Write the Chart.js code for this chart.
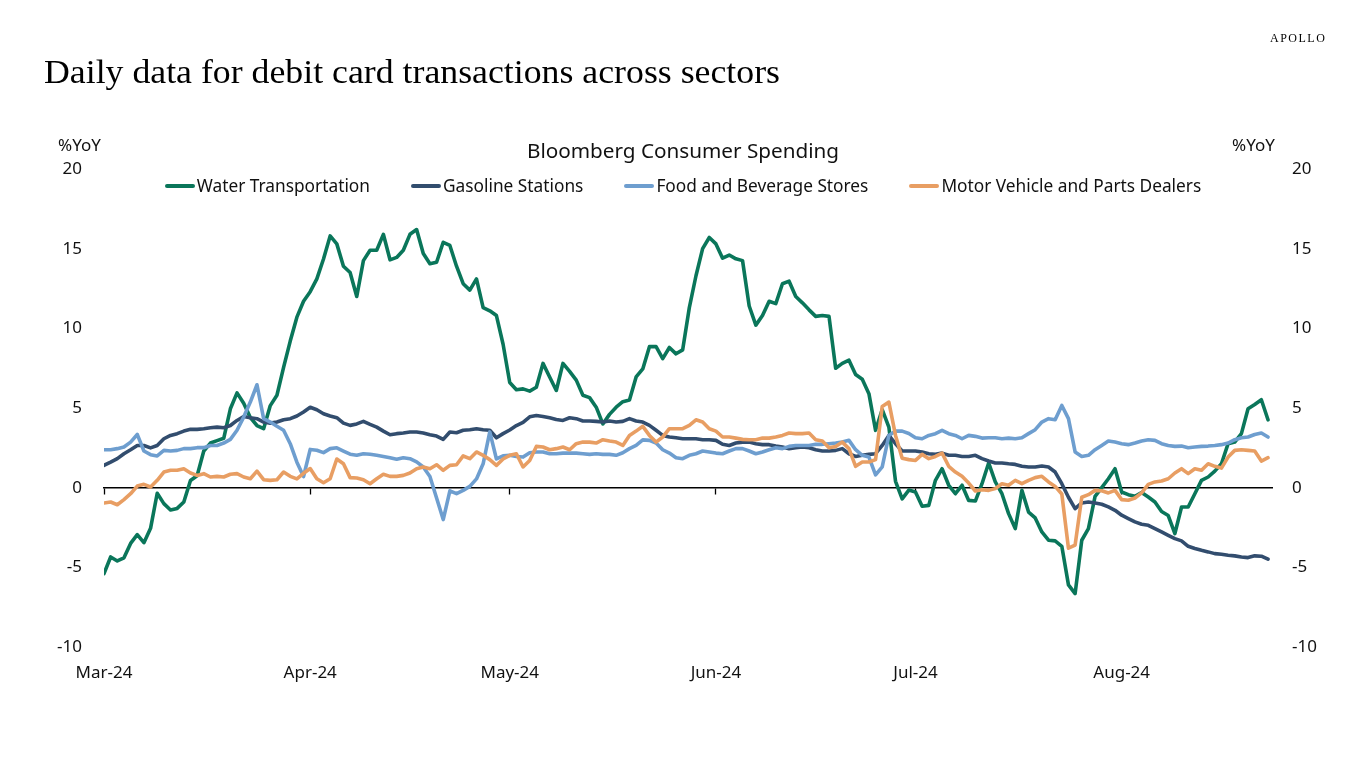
<!DOCTYPE html>
<html>
<head>
<meta charset="utf-8">
<script src="https://cdn.jsdelivr.net/npm/chart.js@4.4.1/dist/chart.umd.min.js"></script>
<style>
html,body{margin:0;padding:0;background:#fff;width:1366px;height:768px;overflow:hidden;}
#wrap{position:relative;width:1366px;height:768px;}
#c{position:absolute;left:0;top:0;}
.t{position:absolute;white-space:nowrap;color:#111;}
#title{left:44px;top:55px;font-family:"Liberation Serif",serif;font-size:34px;line-height:34px;transform-origin:0 0;color:#000;}
#apollo{left:1270px;top:32px;font-family:"Liberation Serif",serif;font-size:12px;line-height:12px;letter-spacing:1.5px;color:#000;}
#sub{left:433px;width:500px;text-align:center;top:138px;font-family:"Noto Sans",sans-serif;font-size:20.7px;line-height:24px;color:#111;}
.yoy{top:135px;font-family:"Noto Sans",sans-serif;font-size:17px;line-height:20px;color:#111;}
#legend{position:absolute;left:0;width:1366px;top:176px;display:flex;justify-content:center;font-family:"Noto Sans",sans-serif;font-size:17.3px;line-height:20px;color:#111;}
.li{display:flex;align-items:center;margin:0 20.5px;}
.sw{display:inline-block;width:30px;height:4px;border-radius:2px;margin-right:2px;}
</style>
</head>
<body>
<div id="wrap">
<canvas id="c" width="1366" height="768"></canvas>
<div class="t" id="apollo">APOLLO</div>
<div class="t" id="title">Daily data for debit card transactions across sectors</div>
<div class="t" id="sub">Bloomberg Consumer Spending</div>
<div class="t yoy" style="left:58px;">%YoY</div>
<div class="t yoy" style="left:1232px;">%YoY</div>
<div id="legend"></div>
</div>
<script>
// Daily observations starting 1 Mar 2024 (day 0) through 23 Aug 2024 (day 175)
const startDate = '2024-03-01';
const seriesNames = ['Water Transportation', 'Gasoline Stations', 'Food and Beverage Stores', 'Motor Vehicle and Parts Dealers'];
const seriesColors = ['#0A765A', '#324D6E', '#6E9ECF', '#E89E63'];

const waterTransportation = [
  -5.4,-4.35,-4.6,-4.4,-3.5,-2.95,-3.45,-2.55,-0.35,-1.0,-1.4,-1.3,-0.9,0.45,0.75,2.3,2.8,2.95,3.1,4.95,5.95,5.3,4.4,3.9,3.7,5.15,5.8,7.55,9.2,10.7,11.7,
  12.3,13.1,14.35,15.8,15.3,13.9,13.5,12.0,14.25,14.9,14.9,15.9,14.3,14.45,14.9,15.9,16.2,14.7,14.05,14.15,15.4,15.2,13.9,12.8,12.4,13.1,11.3,11.1,10.8,9.0,
  6.6,6.15,6.2,6.06,6.3,7.8,6.95,6.1,7.8,7.3,6.75,5.8,5.65,5.05,4.0,4.6,5.05,5.4,5.5,6.95,7.45,8.85,8.85,8.1,8.8,8.4,8.65,11.3,13.3,15.0,
  15.7,15.3,14.4,14.6,14.36,14.25,11.4,10.2,10.8,11.7,11.55,12.8,12.96,12.0,11.6,11.16,10.75,10.8,10.75,7.5,7.8,8.0,7.1,6.8,5.9,3.6,4.9,3.8,0.4,-0.7,
  -0.15,-0.27,-1.17,-1.11,0.46,1.19,0.15,-0.38,0.15,-0.8,-0.84,0.25,1.55,0.36,-0.38,-1.63,-2.57,-0.17,-1.53,-1.9,-2.78,-3.3,-3.34,-3.68,-6.1,-6.65,-3.3,-2.57,-0.55,0.0,
  0.56,1.19,-0.27,-0.44,-0.54,-0.3,-0.59,-0.9,-1.5,-1.75,-2.88,-1.21,-1.21,-0.38,0.46,0.67,1.04,1.5,2.76,2.86,3.39,4.95,5.22,5.52,4.26
];
const gasolineStations = [
  1.4,1.6,1.82,2.13,2.38,2.65,2.65,2.5,2.65,3.07,3.28,3.39,3.55,3.66,3.66,3.7,3.76,3.8,3.76,3.9,4.22,4.47,4.39,4.33,4.12,4.05,4.12,4.26,4.33,4.5,4.75,
  5.05,4.89,4.64,4.5,4.39,4.05,3.91,4.0,4.16,3.97,3.8,3.55,3.32,3.39,3.43,3.49,3.49,3.43,3.32,3.24,3.03,3.49,3.45,3.6,3.64,3.7,3.64,3.6,3.13,3.39,
  3.62,3.9,4.1,4.45,4.53,4.47,4.39,4.28,4.22,4.39,4.33,4.18,4.18,4.16,4.12,4.18,4.12,4.16,4.33,4.18,4.12,3.91,3.6,3.28,3.18,3.13,3.07,3.07,3.07,3.01,
  3.01,2.97,2.72,2.65,2.8,2.86,2.86,2.76,2.7,2.7,2.61,2.55,2.45,2.51,2.55,2.51,2.38,2.3,2.3,2.34,2.45,2.13,1.96,2.03,2.09,2.13,2.65,3.28,2.76,2.3,
  2.3,2.3,2.24,2.13,2.09,2.17,2.03,2.03,1.96,1.96,2.03,1.82,1.67,1.55,1.55,1.5,1.46,1.34,1.3,1.3,1.36,1.3,0.98,0.25,-0.6,-1.32,-0.96,-0.9,-0.96,-1.04,
  -1.21,-1.42,-1.73,-1.94,-2.15,-2.3,-2.36,-2.57,-2.78,-2.99,-3.2,-3.34,-3.68,-3.82,-3.93,-4.03,-4.14,-4.18,-4.24,-4.28,-4.35,-4.39,-4.28,-4.3,-4.49
];
const foodBeverageStores = [
  2.38,2.38,2.45,2.55,2.86,3.34,2.3,2.07,1.99,2.34,2.3,2.34,2.45,2.45,2.51,2.51,2.65,2.65,2.8,3.03,3.6,4.43,5.37,6.46,4.33,4.12,3.85,3.6,2.76,1.6,0.7,
  2.4,2.35,2.2,2.45,2.5,2.3,2.1,2.03,2.13,2.1,2.03,1.96,1.88,1.78,1.88,1.82,1.62,1.3,0.7,-0.65,-2.0,-0.2,-0.38,-0.17,0.08,0.55,1.5,3.5,1.8,2.0,
  2.03,1.96,1.92,2.19,2.24,2.24,2.13,2.13,2.17,2.17,2.17,2.13,2.09,2.13,2.09,2.09,2.03,2.19,2.45,2.65,3.0,2.97,2.8,2.38,2.17,1.88,1.82,2.03,2.13,2.3,
  2.24,2.17,2.13,2.3,2.45,2.45,2.3,2.13,2.24,2.38,2.51,2.45,2.59,2.65,2.65,2.65,2.72,2.72,2.76,2.8,2.86,2.97,2.38,2.03,1.92,0.8,1.3,3.28,3.55,3.55,
  3.4,3.13,3.07,3.28,3.39,3.6,3.39,3.28,3.07,3.28,3.22,3.11,3.13,3.13,3.07,3.11,3.07,3.13,3.39,3.64,4.12,4.33,4.26,5.16,4.33,2.24,1.96,2.03,2.38,2.65,
  2.93,2.86,2.76,2.7,2.8,2.93,3.01,2.97,2.76,2.65,2.59,2.61,2.51,2.55,2.59,2.61,2.65,2.7,2.8,3.01,3.13,3.18,3.34,3.43,3.18
];
const motorVehicleDealers = [
  -0.96,-0.9,-1.07,-0.75,-0.38,0.1,0.21,0.04,0.46,0.98,1.09,1.09,1.19,0.92,0.77,0.88,0.67,0.71,0.67,0.84,0.88,0.67,0.56,1.04,0.5,0.46,0.5,0.98,0.71,0.55,0.9,
  1.2,0.56,0.31,0.56,1.8,1.5,0.63,0.61,0.5,0.25,0.56,0.84,0.71,0.71,0.77,0.92,1.19,1.3,1.19,1.44,1.09,1.4,1.44,1.99,1.82,2.24,2.03,1.76,1.4,1.8,
  2.03,2.13,1.3,1.71,2.59,2.55,2.38,2.45,2.55,2.38,2.76,2.86,2.86,2.8,3.01,2.93,2.86,2.65,3.28,3.55,3.85,3.28,2.86,3.18,3.7,3.7,3.7,3.91,4.26,4.12,
  3.7,3.55,3.18,3.18,3.11,3.03,3.01,3.01,3.11,3.11,3.18,3.28,3.43,3.39,3.39,3.43,3.01,2.93,2.51,2.59,2.86,2.45,1.34,1.61,1.61,1.76,5.1,5.37,3.28,1.85,
  1.76,1.71,2.09,1.82,1.96,2.17,1.34,0.98,0.71,0.29,-0.21,-0.13,-0.17,-0.06,0.25,0.15,0.46,0.25,0.46,0.63,0.71,0.36,0.08,-0.4,-3.8,-3.6,-0.6,-0.44,-0.17,-0.19,
  -0.33,-0.17,-0.75,-0.79,-0.65,-0.33,0.21,0.36,0.42,0.56,0.92,1.19,0.88,1.19,1.09,1.5,1.34,1.23,1.92,2.34,2.38,2.34,2.3,1.67,1.88
];

// Month tick positions (day offsets from startDate) and their labels
const tickDays = [0, 31, 61, 92, 122, 153];
const tickLabels = ['Mar-24', 'Apr-24', 'May-24', 'Jun-24', 'Jul-24', 'Aug-24'];
const yTicks = [-10, -5, 0, 5, 10, 15, 20];

const allSeries = [waterTransportation, gasolineStations, foodBeverageStores, motorVehicleDealers];
const toPoints = arr => arr.map((v, i) => ({x: i, y: v}));

// Legend (HTML)
const lg = document.getElementById('legend');
seriesNames.forEach((n, i) => {
  const it = document.createElement('div'); it.className = 'li';
  const sw = document.createElement('span'); sw.className = 'sw'; sw.style.background = seriesColors[i];
  const tx = document.createElement('span'); tx.textContent = n;
  it.appendChild(sw); it.appendChild(tx); lg.appendChild(it);
});

// Fit title width
const title = document.getElementById('title');
const tw = title.getBoundingClientRect().width;
title.style.transform = 'scaleX(' + (736 / tw) + ')';

const X_MIN = 0, X_MAX = 175.6;
const tickFont = {family: '"Noto Sans", sans-serif', size: 17};
const setTicks = s => { s.ticks = tickDays.map(v => ({value: v})); };

new Chart(document.getElementById('c').getContext('2d'), {
  type: 'line',
  data: {
    datasets: allSeries.map((arr, i) => ({
      label: seriesNames[i],
      data: toPoints(arr),
      borderColor: seriesColors[i],
      backgroundColor: seriesColors[i],
      borderWidth: 3.6,
      pointRadius: 0,
      tension: 0,
      order: allSeries.length - i,
      xAxisID: 'x', yAxisID: 'y'
    }))
  },
  options: {
    responsive: false, animation: false, devicePixelRatio: 1,
    layout: {padding: {top: 169, left: 0, right: 0, bottom: 0}},
    plugins: {legend: {display: false}, tooltip: {enabled: false}},
    elements: {line: {borderJoinStyle: 'round', borderCapStyle: 'round'}},
    scales: {
      x: {
        type: 'linear', position: {y: 0}, min: X_MIN, max: X_MAX,
        afterBuildTicks: setTicks,
        ticks: {display: false},
        grid: {display: true, drawOnChartArea: false, drawTicks: true, tickLength: 6, tickColor: '#000', tickWidth: 1.3},
        border: {display: true, color: '#000', width: 1.5}
      },
      xb: {
        type: 'linear', position: 'bottom', min: X_MIN, max: X_MAX,
        afterBuildTicks: setTicks,
        ticks: {autoSkip: false, maxRotation: 0, padding: 16, font: tickFont, color: '#111',
          callback: v => tickLabels[tickDays.indexOf(v)]},
        grid: {display: false, drawTicks: false},
        border: {display: false},
        afterFit: s => { s.height = 121; }
      },
      y: {
        position: 'left', min: -10, max: 20,
        afterBuildTicks: s => { s.ticks = yTicks.map(v => ({value: v})); },
        ticks: {padding: 22, font: tickFont, color: '#111'},
        grid: {display: false, drawTicks: false},
        border: {display: false},
        afterFit: s => { s.width = 104; }
      },
      y2: {
        position: 'right', min: -10, max: 20,
        afterBuildTicks: s => { s.ticks = yTicks.map(v => ({value: v})); },
        ticks: {padding: 20, font: tickFont, color: '#111'},
        grid: {display: false, drawTicks: false},
        border: {display: false},
        afterFit: s => { s.width = 94; }
      }
    }
  }
});
</script>
</body>
</html>
